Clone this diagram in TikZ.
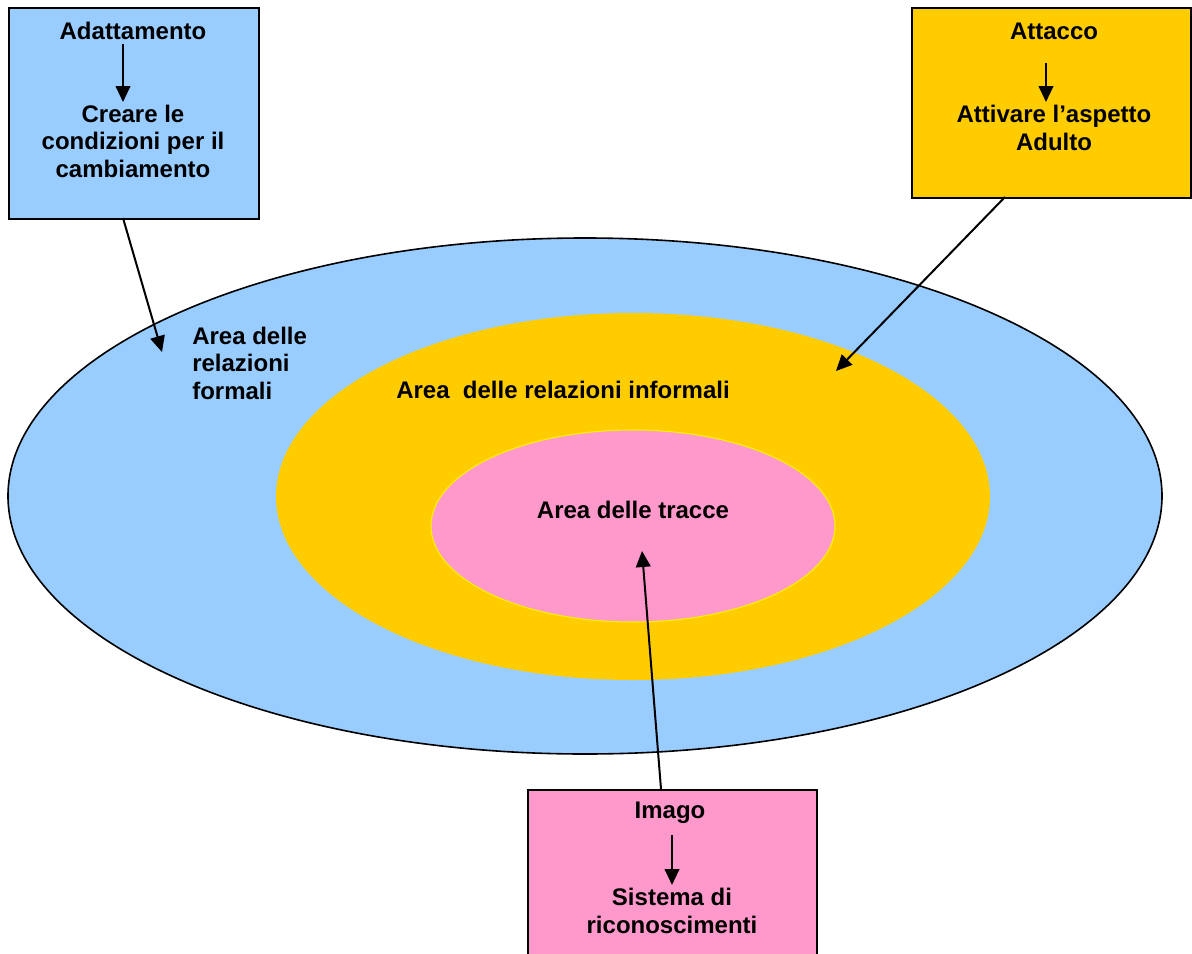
\documentclass[tikz,border=0pt]{standalone}
\usepackage{fontspec}
\setmainfont{Liberation Sans}
\usetikzlibrary{shapes.geometric,arrows.meta}
\definecolor{lblue}{HTML}{99CCFF}
\definecolor{gold}{HTML}{FFCC00}
\definecolor{lpink}{HTML}{FF99CC}
\begin{document}
\begin{tikzpicture}[x=0.75pt,y=-0.75pt,
  txt/.style={font=\fontsize{18}{20.6}\selectfont\bfseries, inner sep=0, align=center},
  boxshape/.style={draw=black, line width=1.2pt, inner sep=0, anchor=north west},
  arr/.style={-{Triangle[length=12pt,width=11pt]}, line width=1.5pt}]
\useasboundingbox (0,0) rectangle (1192,953);
% boxes
\node (b1) [boxshape, fill=lblue, minimum width=187.5pt, minimum height=158.25pt] at (8,7) {};
\node (b2) [boxshape, fill=gold, minimum width=209.25pt, minimum height=142.5pt] at (911,7) {};
\node (b3) [boxshape, fill=lpink, minimum width=216.75pt, minimum height=135pt] at (527,789) {};
% ellipses
\node (outer) [ellipse, draw=black, line width=1.2pt, fill=lblue, minimum width=865.5pt, minimum height=387pt, inner sep=0] at (585,496) {};
\node (mid) [ellipse, fill=gold, minimum width=535.5pt, minimum height=275.25pt, inner sep=0] at (633,496.5) {};
\node (inner) [ellipse, draw=yellow, line width=0.8pt, fill=lpink, minimum width=303pt, minimum height=144pt, inner sep=0] at (633,526) {};
% box texts
\node (t1a) [txt] at (133,31) {Adattamento};
\node (t1b) [txt] at (133,141) {Creare le\\condizioni per il\\cambiamento};
\node (t2a) [txt] at (1054,31) {Attacco};
\node (t2b) [txt] at (1054,128) {Attivare l’aspetto\\Adulto};
\node (t3a) [txt] at (670,813) {Imago};
\node (t3b) [txt] at (672,911) {Sistema di\\riconoscimenti};
% area labels
\node (l1) [txt, align=left, anchor=west] at (192,363) {Area delle\\relazioni\\formali};
\node (l2) [txt] at (563,390) {Area\ \ delle relazioni informali};
\node (l3) [txt] at (633,510) {Area delle tracce};
% small arrows in boxes
\coordinate (s1) at (123,44); \coordinate (e1) at (123,102);
\coordinate (s2) at (1046,63); \coordinate (e2) at (1046,102);
\coordinate (s3) at (672,835); \coordinate (e3) at (672,885);
\draw[arr] (s1) -- (e1);
\draw[arr] (s2) -- (e2);
\draw[arr] (s3) -- (e3);
% connectors
\coordinate (c1s) at (123,218); \coordinate (c1e) at (162,352);
\coordinate (c2s) at (1005,197); \coordinate (c2e) at (836,371);
\coordinate (c3s) at (661,789); \coordinate (c3e) at (642,551);
\draw[arr] (c1s) -- (c1e);
\draw[arr] (c2s) -- (c2e);
\draw[arr] (c3s) -- (c3e);
\end{tikzpicture}
\end{document}
